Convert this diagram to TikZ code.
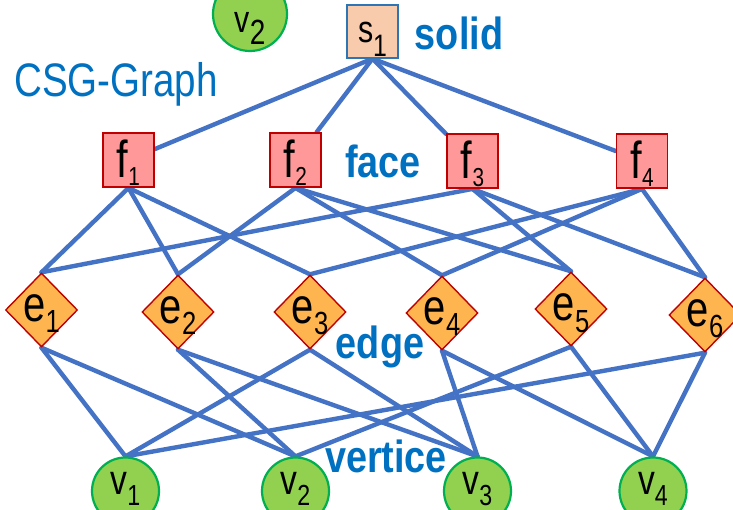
\documentclass[tikz,border=0pt]{standalone}
\usepackage{fontspec}
\setmainfont{Liberation Sans}
\usepackage{graphicx}
\usetikzlibrary{shapes.geometric,backgrounds}

\definecolor{linkblue}{HTML}{4472C4}
\definecolor{capblue}{HTML}{0070C0}
\definecolor{solidfill}{HTML}{F8CBAD}
\definecolor{solidline}{HTML}{2E75B6}
\definecolor{facefill}{HTML}{FF9999}
\definecolor{darkred}{HTML}{C00000}
\definecolor{edgefill}{HTML}{FFB54F}
\definecolor{vertfill}{HTML}{92D050}
\definecolor{vertline}{HTML}{00B050}

% node label: letter, index, letter size, index size, index drop, baseline drop
\newcommand\nlab[6]{\makebox[0pt]{\raisebox{-#6}[0pt][0pt]{\scalebox{0.8}[1]{\fontsize{#3}{#3}\selectfont #1\raisebox{-#5}{\fontsize{#4}{#4}\selectfont #2}}}}}
\newcommand\slab[1]{\nlab{s}{#1}{38pt}{31pt}{14pt}{11.5pt}}
\newcommand\flab[1]{\nlab{f}{#1}{52pt}{26pt}{8pt}{18pt}}
\newcommand\elab[1]{\nlab{e}{#1}{50pt}{32pt}{11pt}{12pt}}
\newcommand\vlab[1]{\nlab{v}{#1}{42pt}{29pt}{11pt}{3pt}}

\tikzset{
  solidbox/.style={rectangle, draw=solidline, line width=1.3pt, fill=solidfill,
    minimum width=51pt, minimum height=53pt, inner sep=0pt},
  facebox/.style={rectangle, draw=darkred, line width=1.8pt, fill=facefill,
    minimum width=51pt, minimum height=54pt, inner sep=0pt},
  edgebox/.style={diamond, draw=darkred, line width=1.4pt, fill=edgefill,
    minimum width=72pt, minimum height=74pt, inner sep=0pt},
  vertbox/.style={circle, draw=vertline, line width=2.2pt, fill=vertfill,
    minimum size=67pt, inner sep=0pt},
  link/.style={draw=linkblue, line width=4.4pt, line cap=round},
  tag/.style={text=capblue, font=\bfseries\fontsize{45}{45}\selectfont,
    inner sep=0pt, anchor=base}
}

\begin{document}
\begin{tikzpicture}[x=1pt,y=-1pt]
\useasboundingbox (0,0) rectangle (733,510);

% solid
\node[solidbox] (s1) at (372.5,31.5) {\slab{1}};
% stray vertex at the top
\node[vertbox, minimum size=74pt] (vtop) at (250,14)
  {\nlab{v}{2}{38pt}{35pt}{12pt}{19pt}};

% faces
\node[facebox] (f1) at (128.5,160) {\flab{1}};
\node[facebox] (f2) at (295.5,160) {\flab{2}};
\node[facebox] (f3) at (472.5,161) {\flab{3}};
\node[facebox] (f4) at (642,161) {\flab{4}};

% edges
\node[edgebox] (e1) at (41.5,310) {\elab{1}};
\node[edgebox] (e2) at (178,312) {\elab{2}};
\node[edgebox] (e3) at (310,312) {\elab{3}};
\node[edgebox] (e4) at (442,313) {\elab{4}};
\node[edgebox] (e5) at (571,309) {\elab{5}};
\node[edgebox] (e6) at (705,315) {\elab{6}};

% vertices
\node[vertbox] (v1) at (125.5,491) {\vlab{1}};
\node[vertbox] (v2) at (295.5,491) {\vlab{2}};
\node[vertbox] (v3) at (477.5,491) {\vlab{3}};
\node[vertbox] (v4) at (653,491) {\vlab{4}};

\begin{scope}[on background layer]
  % solid -> faces
  \foreach \f in {f1,f2,f3,f4} \draw[link] (s1.south) -- (\f);
  % faces -> edges
  \foreach \f/\e in {f1/e1,f1/e2,f1/e3, f2/e2,f2/e4,f2/e5,
                     f3/e1,f3/e5,f3/e6, f4/e3,f4/e4,f4/e6}
    \draw[link] (\f.south) -- (\e.north);
  % edges -> vertices
  \foreach \e/\v in {e1/v1,e1/v2, e2/v2,e2/v3, e3/v1,e3/v3,
                     e4/v3,e4/v4, e5/v2,e5/v4, e6/v1,e6/v4}
    \draw[link] (\e.south) -- (\v.north);
\end{scope}

% level captions
\node[text=capblue, font=\fontsize{47}{47}\selectfont, inner sep=0pt,
  anchor=base west] (title) at (14,97) {\scalebox{0.82}[1]{CSG-Graph}};
\node[tag] (tsolid) at (459,50) {\scalebox{0.84}[1]{solid}};
\node[tag] (tface) at (383,178) {\scalebox{0.84}[1]{face}};
\node[tag] (tedge) at (380,359) {\scalebox{0.84}[1]{edge}};
\node[tag] (tvert) at (386,472) {\scalebox{0.84}[1]{vertice}};
\end{tikzpicture}
\end{document}
